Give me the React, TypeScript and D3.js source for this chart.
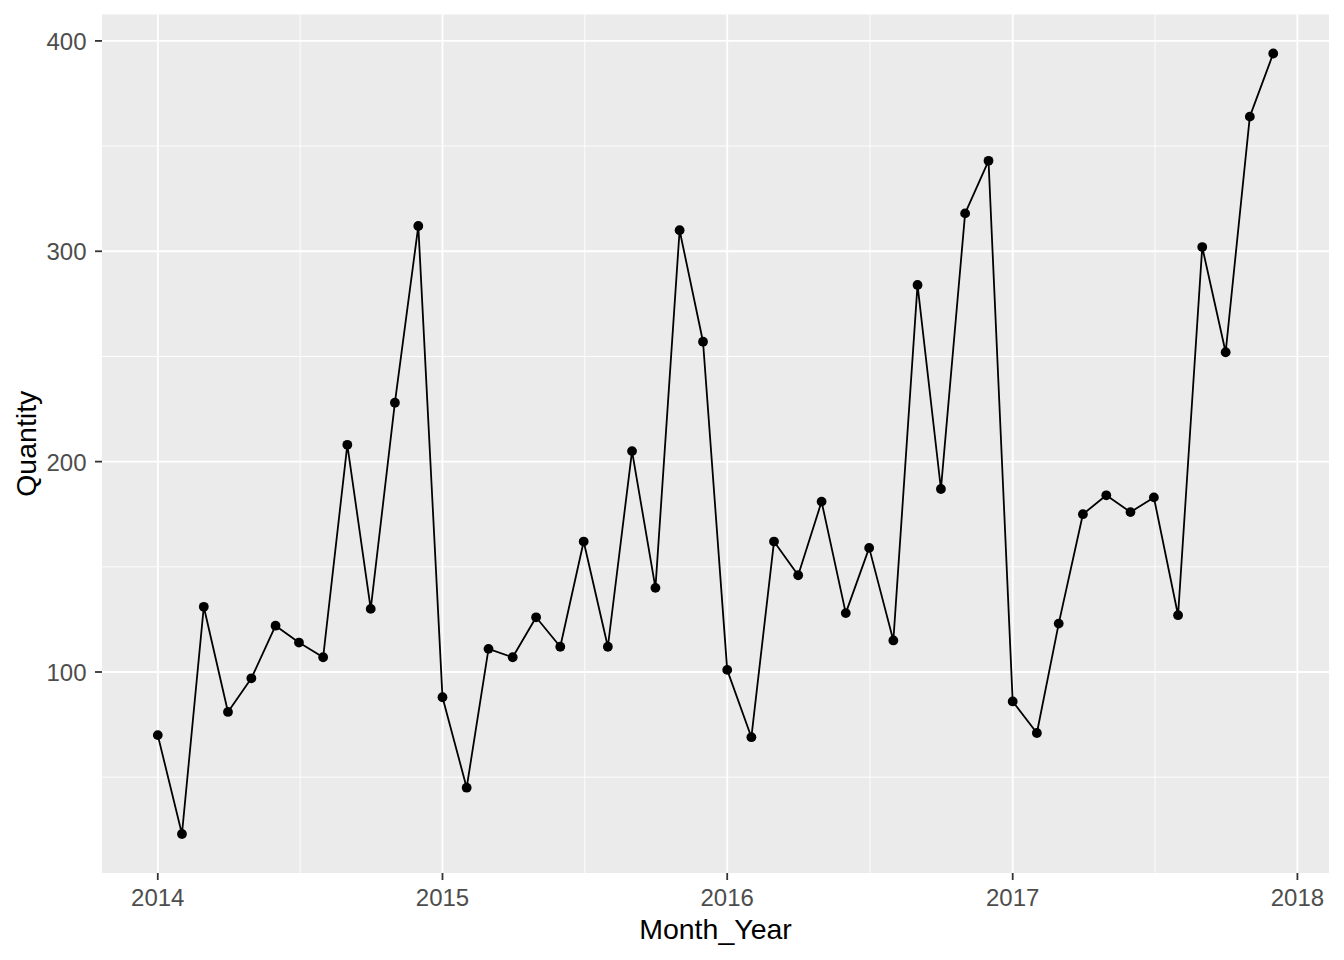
import React from "react";
import * as d3 from "d3";

const months = [
  "2014-01","2014-02","2014-03","2014-04","2014-05","2014-06","2014-07","2014-08","2014-09","2014-10","2014-11","2014-12",
  "2015-01","2015-02","2015-03","2015-04","2015-05","2015-06","2015-07","2015-08","2015-09","2015-10","2015-11","2015-12",
  "2016-01","2016-02","2016-03","2016-04","2016-05","2016-06","2016-07","2016-08","2016-09","2016-10","2016-11","2016-12",
  "2017-01","2017-02","2017-03","2017-04","2017-05","2017-06","2017-07","2017-08","2017-09","2017-10","2017-11","2017-12",
];
const quantity = [
  70, 23, 131, 81, 97, 122, 114, 107, 208, 130, 228, 312,
  88, 45, 111, 107, 126, 112, 162, 112, 205, 140, 310, 257,
  101, 69, 162, 146, 181, 128, 159, 115, 284, 187, 318, 343,
  86, 71, 123, 175, 184, 176, 183, 127, 302, 252, 364, 394,
];
const yMajor = [100, 200, 300, 400];
const yMinor = [50, 150, 250, 350];
const xYears = [2014, 2015, 2016, 2017, 2018];
const xTitle = "Month_Year";
const yTitle = "Quantity";

const W = 1344, H = 960;
const panel = { left: 102, right: 1329, top: 14.5, bottom: 873 };
const FONT = "'Liberation Sans', Arial, sans-serif";

export default function App() {
  const parse = d3.timeParse("%Y-%m");
  const data = months.map((m, i) => ({ date: parse(m) as Date, value: quantity[i] }));

  const [dMin, dMax] = d3.extent(data, (d) => d.date) as [Date, Date];
  const span = +dMax - +dMin;
  const x = d3.scaleTime()
    .domain([new Date(+dMin - span * 0.05), new Date(+dMax + span * 0.05)])
    .range([panel.left, panel.right]);

  const [vMin, vMax] = d3.extent(data, (d) => d.value) as [number, number];
  const vSpan = vMax - vMin;
  const y = d3.scaleLinear()
    .domain([vMin - vSpan * 0.05, vMax + vSpan * 0.05])
    .range([panel.bottom, panel.top]);

  const majorDates = xYears.map((yr) => new Date(yr, 0, 1));
  const minorDates: Date[] = [];
  for (let i = 0; i < majorDates.length - 1; i++) {
    minorDates.push(new Date((+majorDates[i] + +majorDates[i + 1]) / 2));
  }
  const [x0, x1] = x.domain();
  const inX = (d: Date) => +d >= +x0 && +d <= +x1;

  const line = d3.line<{ date: Date; value: number }>()
    .x((d) => x(d.date))
    .y((d) => y(d.value));

  return (
    <svg width={W} height={H} style={{ position: "absolute", left: 0, top: 0, background: "#fff" }}>
      <rect x={0} y={0} width={W} height={H} fill="#fff" />
      <rect x={panel.left} y={panel.top} width={panel.right - panel.left} height={panel.bottom - panel.top} fill="#EBEBEB" />
      {yMinor.map((v) => (
        <line key={"ym" + v} x1={panel.left} x2={panel.right} y1={y(v)} y2={y(v)} stroke="#fff" strokeWidth={0.9} />
      ))}
      {minorDates.filter(inX).map((d, i) => (
        <line key={"xm" + i} x1={x(d)} x2={x(d)} y1={panel.top} y2={panel.bottom} stroke="#fff" strokeWidth={0.9} />
      ))}
      {yMajor.map((v) => (
        <line key={"yM" + v} x1={panel.left} x2={panel.right} y1={y(v)} y2={y(v)} stroke="#fff" strokeWidth={1.8} />
      ))}
      {majorDates.filter(inX).map((d, i) => (
        <line key={"xM" + i} x1={x(d)} x2={x(d)} y1={panel.top} y2={panel.bottom} stroke="#fff" strokeWidth={1.8} />
      ))}

      <path d={line(data) || ""} fill="none" stroke="#000" strokeWidth={1.8} strokeLinejoin="round" />
      {data.map((d, i) => (
        <circle key={i} cx={x(d.date)} cy={y(d.value)} r={4.9} fill="#000" />
      ))}

      {yMajor.map((v) => (
        <g key={"yt" + v}>
          <line x1={panel.left - 7} x2={panel.left} y1={y(v)} y2={y(v)} stroke="#333" strokeWidth={1.8} />
          <text x={panel.left - 15.5} y={y(v) + 9} textAnchor="end" fontFamily={FONT} fontSize={24} fill="#4D4D4D">
            {v}
          </text>
        </g>
      ))}
      {majorDates.filter(inX).map((d, i) => (
        <g key={"xt" + i}>
          <line x1={x(d)} x2={x(d)} y1={panel.bottom} y2={panel.bottom + 7} stroke="#333" strokeWidth={1.8} />
          <text x={x(d)} y={906} textAnchor="middle" fontFamily={FONT} fontSize={24} fill="#4D4D4D">
            {d3.timeFormat("%Y")(d)}
          </text>
        </g>
      ))}

      <text x={(panel.left + panel.right) / 2} y={939} textAnchor="middle" fontFamily={FONT} fontSize={28.5} fill="#000">
        {xTitle}
      </text>
      <text transform={`translate(35.5, ${(panel.top + panel.bottom) / 2}) rotate(-90)`} textAnchor="middle" fontFamily={FONT} fontSize={28.5} fill="#000">
        {yTitle}
      </text>
    </svg>
  );
}
